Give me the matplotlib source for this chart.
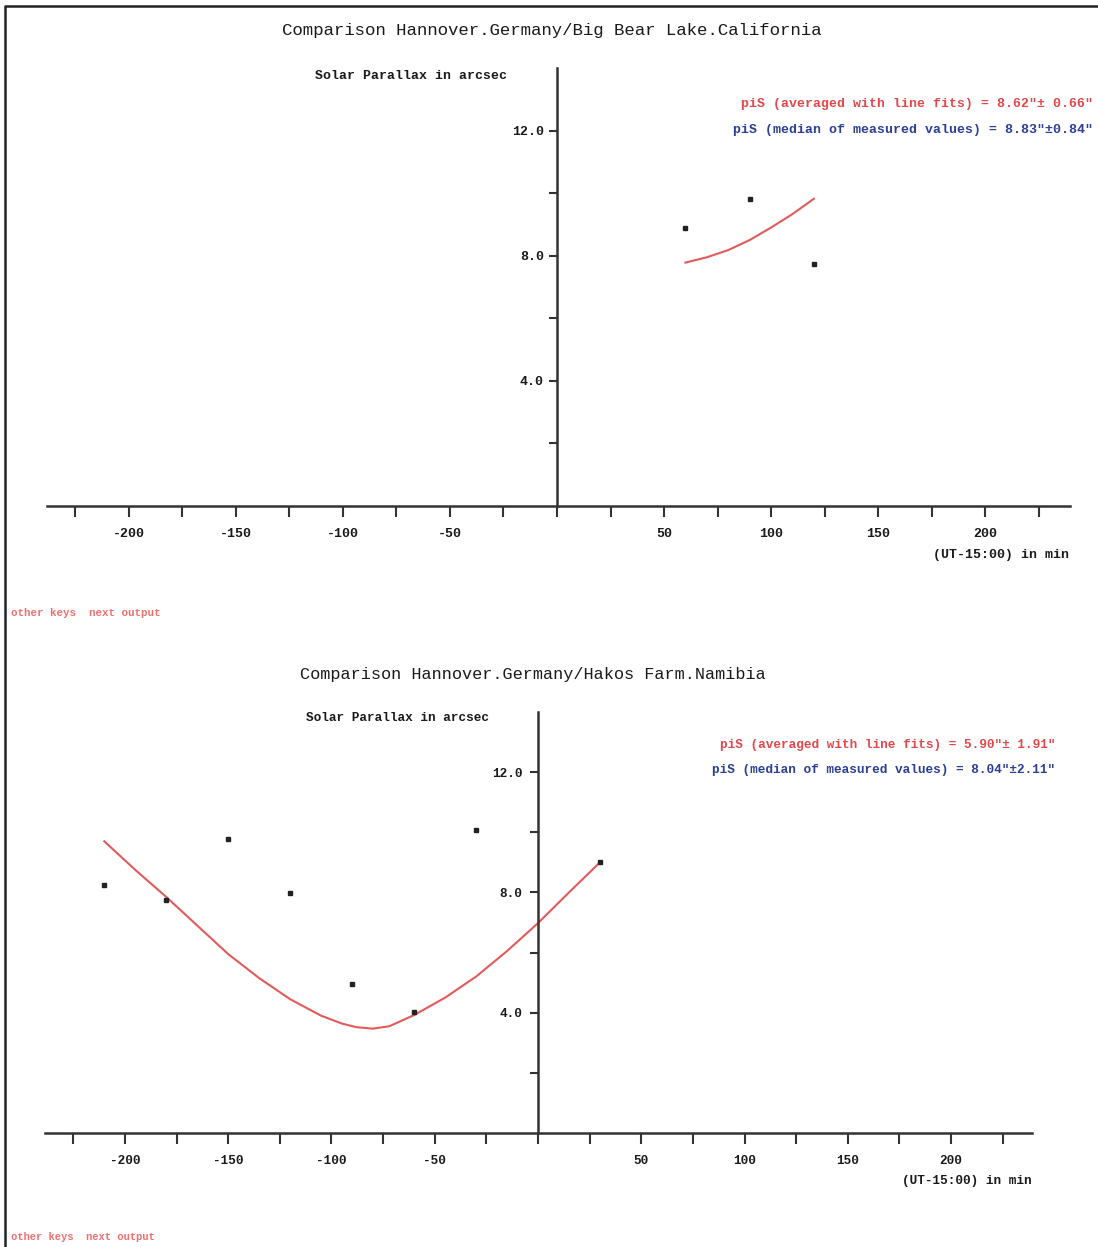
import matplotlib
matplotlib.use("Agg")
import matplotlib.pyplot as plt
from matplotlib.lines import Line2D

# ---- data ----
# top panel: Hannover / Big Bear Lake
bb_t = [60, 90, 120]
bb_pis = [8.9, 9.82, 7.75]
bb_fit_t = [60, 70, 80, 90, 100, 110, 120]
bb_fit = [7.78, 7.95, 8.18, 8.5, 8.9, 9.33, 9.82]

# bottom panel: Hannover / Hakos Farm
hk_t = [-210, -180, -150, -120, -90, -60, -30, 30]
hk_pis = [8.25, 7.75, 9.79, 7.98, 4.94, 4.04, 10.06, 9.02]
hk_fit_t = [-210, -195, -180, -165, -150, -135, -120, -105, -95, -88, -80,
            -72, -60, -45, -30, -15, 0, 15, 30]
hk_fit = [9.7, 8.75, 7.85, 6.9, 5.95, 5.15, 4.45, 3.9, 3.64, 3.52, 3.47,
          3.55, 3.92, 4.5, 5.2, 6.05, 6.98, 8.0, 9.0]

x_major = [-225, -200, -175, -150, -125, -100, -75, -50, -25, 0,
           25, 50, 75, 100, 125, 150, 175, 200, 225]
x_labeled = [-200, -150, -100, -50, 50, 100, 150, 200]
y_major = [2, 4, 6, 8, 10, 12]
y_labeled = [4, 8, 12]

W, H = 1098, 1247
MONO = ["Liberation Mono", "DejaVu Sans Mono"]
RED = "#e2474b"
BLUE = "#2c3f96"
CURVE = "#e35a5a"
INK = "#1a1a1a"

fig = plt.figure(figsize=(W / 100, H / 100), dpi=100)


def fx(x):
    return x / W


def fy(y):
    return 1 - y / H


def txt(x, y, s, **kw):
    kw.setdefault("family", MONO)
    fig.text(fx(x), fy(y), s, va="center", **kw)


def panel(left, right, top, bottom, xlim, t, pis, fit_t, fit, fs, ypad):
    ax = fig.add_axes([fx(left), fy(bottom), (right - left) / W, (bottom - top) / H])
    ax.set_xlim(*xlim)
    ax.set_ylim(0, 14)
    for s in ["top", "right"]:
        ax.spines[s].set_visible(False)
    ax.spines["left"].set_position(("data", 0))
    for s in ["left", "bottom"]:
        ax.spines[s].set_color("#333333")
        ax.spines[s].set_linewidth(1.8)
    ax.patch.set_alpha(0)

    ax.set_xticks(x_major)
    ax.set_xticklabels([str(v) if v in x_labeled else "" for v in x_major])
    ax.set_yticks(y_major)
    ax.set_yticklabels([f"{v:.1f}" if v in y_labeled else "" for v in y_major])
    ax.tick_params(axis="x", direction="out", length=8, width=1.5, pad=8,
                   colors="#333333", labelsize=fs)
    ax.tick_params(axis="y", direction="out", length=6, width=1.5, pad=ypad,
                   colors="#333333", labelsize=fs)
    for lab in ax.get_xticklabels() + ax.get_yticklabels():
        lab.set_family(MONO)
        lab.set_fontweight("bold")
        lab.set_color(INK)

    ax.plot(fit_t, fit, color=CURVE, lw=1.5, clip_on=False)
    ax.plot(t, pis, ls="none", marker="s", ms=2.2, color="#222222", clip_on=False)
    return ax


# top panel
panel(47, 1070, 68, 506, (-238.3, 239.7), bb_t, bb_pis, bb_fit_t, bb_fit, 9.5, 3.5)
txt(552, 31, "Comparison Hannover.Germany/Big Bear Lake.California",
    ha="center", fontsize=12.5, color=INK)
txt(411, 76, "Solar Parallax in arcsec", ha="center", fontsize=9.5,
    fontweight="bold", color=INK)
txt(1093, 104, 'piS (averaged with line fits) = 8.62"\u00b1 0.66"', ha="right",
    fontsize=9.5, fontweight="bold", color=RED)
txt(1093, 130, 'piS (median of measured values) = 8.83"\u00b10.84"', ha="right",
    fontsize=9.5, fontweight="bold", color=BLUE)
txt(1069, 555, "(UT-15:00) in min", ha="right", fontsize=9.5,
    fontweight="bold", color=INK)
txt(11, 613, "other keys  next output", ha="left", fontsize=7.8,
    fontweight="bold", color="#f07070")

# bottom panel
panel(45, 1032, 712, 1133, (-238.7, 239.2), hk_t, hk_pis, hk_fit_t, hk_fit, 9.2, 5)
txt(533, 675, "Comparison Hannover.Germany/Hakos Farm.Namibia",
    ha="center", fontsize=12.2, color=INK)
txt(397, 718, "Solar Parallax in arcsec", ha="center", fontsize=9.2,
    fontweight="bold", color=INK)
txt(1055, 745, 'piS (averaged with line fits) = 5.90"\u00b1 1.91"', ha="right",
    fontsize=9.2, fontweight="bold", color=RED)
txt(1055, 770, 'piS (median of measured values) = 8.04"\u00b12.11"', ha="right",
    fontsize=9.2, fontweight="bold", color=BLUE)
txt(1032, 1181, "(UT-15:00) in min", ha="right", fontsize=9.2,
    fontweight="bold", color=INK)
txt(11, 1237, "other keys  next output", ha="left", fontsize=7.6,
    fontweight="bold", color="#f07070")

# outer frame (left and top edge)
fig.add_artist(Line2D([fx(5), fx(5), fx(1098)], [fy(1247), fy(6), fy(6)],
                      color="#222222", lw=1.8))

fig.savefig("out.png", dpi=100)
